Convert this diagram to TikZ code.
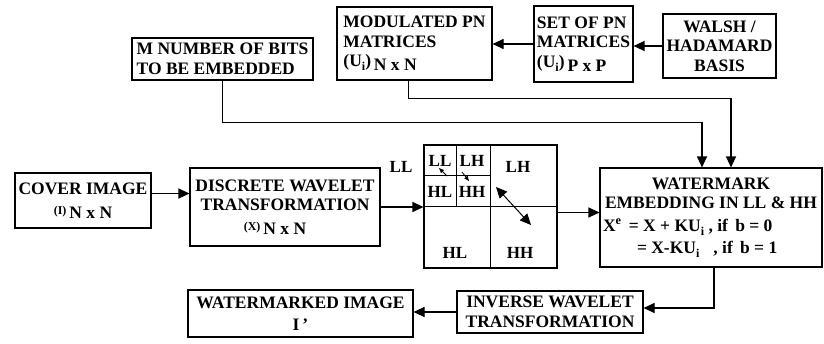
\documentclass[tikz,border=0pt]{standalone}
\usepackage{fontspec}
\setmainfont{Liberation Serif}
\usetikzlibrary{arrows.meta, positioning, calc}

\newcommand{\dn}[1]{\raisebox{-4pt}{#1}}
\newcommand{\lowsize}{\fontsize{12}{12}\selectfont}

\begin{document}
\begin{tikzpicture}[x=1pt, y=-1pt,
        every node/.style={font=\bfseries\fontsize{17.5}{19.5}\selectfont},
        box/.style={draw, line width=1.1pt, inner sep=0.5pt, align=center},
        lbox/.style={box, align=left},
        band/.style={font=\bfseries\fontsize{17}{17}\selectfont, inner sep=0pt},
        arrow/.style={-{Triangle[length=11pt,width=10pt]}, line width=1.1pt},
        tinyarrow/.style={-{Triangle[length=5pt,width=4pt]}, line width=0.8pt}
    ]
    \useasboundingbox (0,0) rectangle (824,343);

    % Top row
    \node[lbox, minimum width=181pt, minimum height=42pt] (bits) at (222.5, 59) {M NUMBER OF BITS\\TO BE EMBEDDED};
    \node[lbox, minimum width=155pt, minimum height=73pt] (modpn) at (414.5, 43.5) {MODULATED PN\\MATRICES\\(U\dn{\lowsize i})\,\dn{N x N}};
    \node[lbox, minimum width=99pt, minimum height=76pt] (setpn) at (583.5, 44) {SET OF PN\\MATRICES\\(U\dn{\lowsize i})\,\dn{P x P}};
    \node[box, minimum width=113pt, minimum height=64pt] (walsh) at (719.5, 46) {WALSH /\\HADAMARD\\BASIS};

    \draw[arrow] (walsh.west) -- (walsh.west -| setpn.east);
    \draw[arrow] (setpn.west) -- (setpn.west -| modpn.east);

    % Middle row
    \node[box, minimum width=136pt, minimum height=55pt] (cover) at (83, 200.5) {COVER IMAGE\\{\lowsize (I)}\,\dn{N x N}};
    \node[box, minimum width=190pt, minimum height=78pt] (dwt) at (285, 207) {DISCRETE WAVELET\\TRANSFORMATION\\\hspace*{-20pt}{\lowsize (X)}\,\dn{N x N}};
    \draw[arrow] ([yshift=7pt]cover.east) -- ([yshift=7pt]cover.east -| dwt.west);

    % Sub-bands
    \node[draw, line width=1.1pt, minimum width=133pt, minimum height=123pt, inner sep=0pt] (bands) at (490.5, 206.5) {};
    \draw[line width=1pt] (bands.north) -- (bands.south);
    \draw[line width=1pt] (bands.west) -- (bands.east);
    \draw[line width=1pt] ($(bands.north west)!0.5!(bands.north)$) -- ($(bands.west)!0.5!(bands.center)$);
    \draw[line width=1pt] ($(bands.north west)!0.5!(bands.west)$) -- ($(bands.north)!0.5!(bands.center)$);
    \node[band] (ll2) at (440, 161) {LL};
    \node[band] (lh2) at (472, 161) {LH};
    \node[band] (hl2) at (440, 192) {HL};
    \node[band] (hh2) at (472, 192) {HH};
    \node[band] (lh1) at (518, 167) {LH};
    \node[band] (hl1) at (455, 253) {HL};
    \node[band] (hh1) at (520, 253) {HH};
    \node[band] (lltag) at (401, 167) {LL};
    \draw[tinyarrow] (447, 176) -- (439, 168);
    \draw[tinyarrow] (462, 172) -- (469, 181);
    \draw[{Triangle[length=11pt,width=10pt]}-{Triangle[length=11pt,width=10pt]}, line width=1pt] (496, 187) -- (531, 225);
    \draw[arrow] (dwt.east) -- (dwt.east -| bands.west);

    % Embedding
    \node[box, minimum width=222pt, minimum height=99pt, inner sep=1pt] (wm) at (711, 217.5)
        {WATERMARK\\EMBEDDING IN LL \& HH\\[3pt]
         \makebox[216pt][l]{X\textsuperscript{e}\, = X + KU\dn{\lowsize i} , if\, b = 0}\\[3pt]
         \makebox[216pt][l]{\hspace*{34pt}= X-KU\dn{\lowsize i}\hspace*{14pt}, if\, b = 1}};
    \draw[arrow] ([yshift=-6pt]bands.east) -- ([yshift=-6pt]bands.east -| wm.west);
    \draw[arrow] (bits.south) -- ++(0, 42) -| ([xshift=-9pt]wm.north);
    \draw[arrow] ([xshift=-6pt]modpn.south) -- ++(0, 18) -| ([xshift=20pt]wm.north);

    % Bottom row
    \node[box, minimum width=186pt, minimum height=42pt] (inv) at (550, 312) {INVERSE WAVELET\\TRANSFORMATION};
    \node[box, minimum width=225pt, minimum height=47pt] (wmimg) at (300.5, 313.5) {WATERMARKED IMAGE\\[2pt]I\,’};
    \draw[arrow] ([xshift=3pt]wm.south) |- ([yshift=4pt]inv.east);
    \draw[arrow] (inv.west) -- (inv.west -| wmimg.east);

\end{tikzpicture}
\end{document}
